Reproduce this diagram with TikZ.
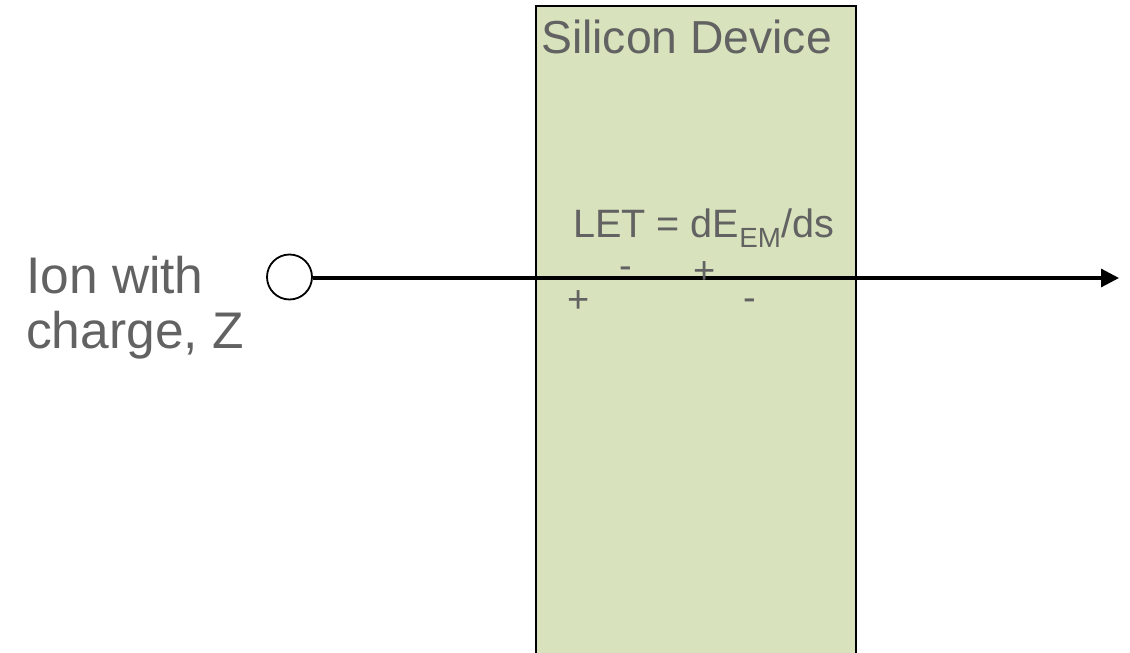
\documentclass[tikz,border=0pt]{standalone}
\usepackage{fontspec}
\setmainfont{Liberation Sans}
\usetikzlibrary{arrows.meta}
\definecolor{devfill}{HTML}{D8E3BD}
\definecolor{txtgray}{HTML}{626262}
\begin{document}
\begin{tikzpicture}[x=1pt,y=-1pt,
  lbl/.style={text=txtgray, inner sep=0pt, anchor=base west},
  sgn/.style={text=txtgray, inner sep=0pt, anchor=base, font=\fontsize{38}{40}\selectfont},
  ion/.style={circle, draw=black, line width=1.8pt, fill=white, minimum size=45pt, inner sep=0pt},
  track/.style={line width=3.2pt, -{Triangle[length=18pt,width=18pt]}}]
\useasboundingbox (0,0) rectangle (1130,653);
\clip (0,0) rectangle (1130,653);
\node[draw=black, line width=2pt, fill=devfill, minimum width=320pt, minimum height=680pt, anchor=north west, inner sep=0pt] (dev) at (535,5) {};
\node[lbl, font=\fontsize{46.3}{50}\selectfont] (title) at (541,53) {Silicon Device};
\node[ion] (ion) at (289.5,277) {};
\coordinate (end) at (1119,278);
\draw[track] (ion.east |- end) -- (end);
\node[lbl, font=\fontsize{39.6}{44}\selectfont] (let) at (573,237) {LET = dE\textsubscript{EM}/ds};
\node[sgn] (m1) at (626,278) {-};
\node[sgn] (p1) at (705,283) {+};
\node[sgn] (p2) at (579,312) {+};
\node[sgn] (m2) at (750,310) {-};
\node[lbl, font=\fontsize{51.5}{55}\selectfont] (ion1) at (26,293) {Ion with};
\node[lbl, font=\fontsize{51.5}{55}\selectfont] (ion2) at (26,348) {charge, Z};
\end{tikzpicture}
\end{document}
